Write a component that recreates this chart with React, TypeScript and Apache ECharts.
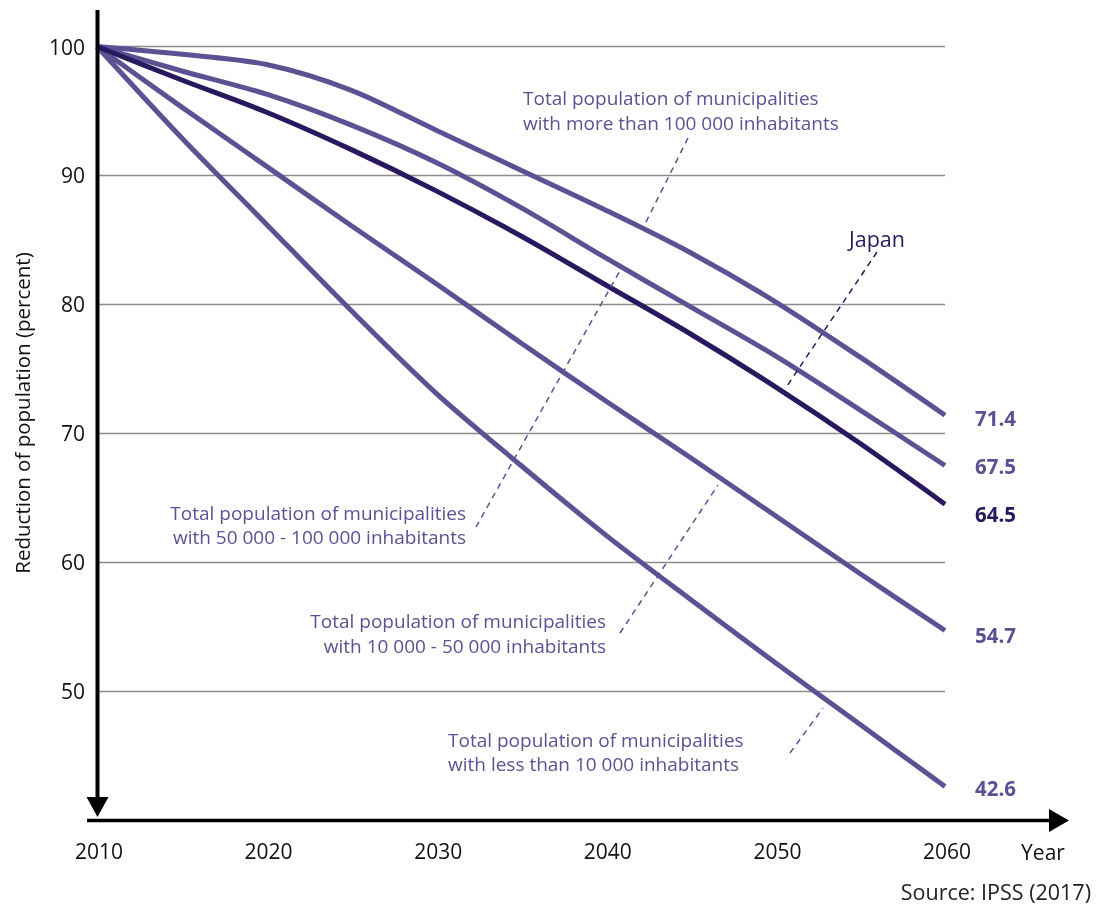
import React, { useEffect, useRef } from "react";
import * as echarts from "echarts";

const years = [2010, 2015, 2020, 2025, 2030, 2035, 2040, 2045, 2050, 2055, 2060];
const over100k = [100, 99.4, 98.6, 96.6, 93.5, 90.4, 87.3, 84.0, 80.2, 75.9, 71.4];
const from50kTo100k = [100, 98.1, 96.3, 93.9, 91.0, 87.5, 83.6, 79.8, 76.0, 71.8, 67.5];
const japan = [100, 97.4, 94.9, 92.0, 88.8, 85.3, 81.5, 77.7, 73.6, 69.2, 64.5];
const from10kTo50k = [100, 95.3, 90.7, 86.1, 81.6, 77.0, 72.5, 68.1, 63.6, 59.1, 54.7];
const under10k = [100, 92.9, 86.2, 79.5, 73.1, 67.5, 62.1, 57.1, 52.2, 47.4, 42.6];

const xTicks = [2010, 2020, 2030, 2040, 2050, 2060];
const yTicks = [50, 60, 70, 80, 90, 100];

const PURPLE = "#5b5293";
const DARK = "#28195f";
const FONT = "'Open Sans', Lato, sans-serif";

function mkSeries(name: string, data: number[], color: string, z: number, dy: number) {
  return {
    type: "line",
    name,
    data: years.map((y, i) => [y, data[i]]),
    smooth: 0.3,
    symbol: "none",
    z,
    lineStyle: { color, width: 5 },
    endLabel: {
      show: true,
      formatter: () => data[data.length - 1].toFixed(1),
      color,
      fontFamily: FONT,
      fontWeight: "bold",
      fontSize: 20.5,
      offset: [22, dy],
    },
  };
}

export default function App() {
  const ref = useRef<HTMLDivElement>(null);
  useEffect(() => {
    if (!ref.current) return;
    const chart = echarts.init(ref.current, null, { renderer: "svg" });
    const txt = (text: string, x: number, y: number, align: string, color: string, size = 19, rotation = 0) => ({
      type: "text",
      x,
      y,
      z: 100,
      rotation,
      style: {
        text,
        fill: color,
        font: `${size}px ${FONT}`,
        fontSize: size,
        fontFamily: FONT,
        align,
        textAlign: align,
        verticalAlign: "middle",
        textVerticalAlign: "middle",
      },
    });
    const two = (l1: string, l2: string, x: number, yc: number, align: string, color: string) => [
      txt(l1, x, yc - 12.25, align, color),
      txt(l2, x, yc + 12.25, align, color),
    ];
    const dash = (x1: number, y1: number, x2: number, y2: number, color: string) => ({
      type: "line",
      z: 100,
      shape: { x1, y1, x2, y2 },
      style: { stroke: color, lineWidth: 1.5, lineDash: [6, 5] },
    });
    chart.setOption({
      animation: false,
      grid: { left: 97, right: 160, top: 46.5, bottom: 86, containLabel: false },
      xAxis: {
        type: "value",
        min: 2010,
        max: 2060,
        interval: 10,
        axisLine: { show: false },
        axisTick: { show: false },
        splitLine: { show: false },
        axisLabel: {
          color: "#111",
          fontSize: 21,
          fontFamily: FONT,
          margin: 20,
          padding: [0, 0, 0, 4],
          formatter: (v: number) => (xTicks.includes(v) ? String(v) : ""),
        },
      },
      yAxis: {
        type: "value",
        min: 40,
        max: 100,
        interval: 10,
        axisLine: { show: false },
        axisTick: { show: false },
        splitLine: { show: true, lineStyle: { color: "#8c8c8c", width: 1.3 } },
        axisLabel: {
          color: "#111",
          fontSize: 21,
          fontFamily: FONT,
          margin: 12,
          showMinLabel: false,
          formatter: (v: number) => (yTicks.includes(v) ? String(v) : ""),
        },
      },
      series: [
        mkSeries(">100k", over100k, PURPLE, 2, 3),
        mkSeries("50k-100k", from50kTo100k, PURPLE, 2, 1),
        mkSeries("10k-50k", from10kTo50k, PURPLE, 2, 5),
        mkSeries("<10k", under10k, PURPLE, 2, 2),
        mkSeries("Japan", japan, DARK, 3, 9.5),
      ],
      graphic: [
        { type: "line", z: 100, shape: { x1: 97.5, y1: 10, x2: 97.5, y2: 800 }, style: { stroke: "#000", lineWidth: 4 } },
        { type: "polygon", z: 100, shape: { points: [[86.5, 797], [108.5, 797], [97.5, 817]] }, style: { fill: "#000" } },
        { type: "line", z: 100, shape: { x1: 87, y1: 820.5, x2: 1052, y2: 820.5 }, style: { stroke: "#000", lineWidth: 3.5 } },
        { type: "polygon", z: 100, shape: { points: [[1049, 809], [1049, 832], [1069, 820.5]] }, style: { fill: "#000" } },
        txt("Reduction of population (percent)", 22, 413, "center", "#111", 20.5, Math.PI / 2),
        txt("Year", 1043, 852, "center", "#111", 21),
        txt("Source: IPSS (2017)", 1091, 891, "right", "#222", 21.5),
        ...two("Total population of municipalities", "with more than 100 000 inhabitants", 523, 110.5, "left", PURPLE),
        dash(688, 138, 643, 228, PURPLE),
        txt("Japan", 877, 238, "center", DARK, 21.5),
        dash(877, 252, 785, 389, DARK),
        ...two("Total population of municipalities", "with 50 000 - 100 000 inhabitants", 466, 525, "right", PURPLE),
        dash(476, 527, 622, 267, PURPLE),
        ...two("Total population of municipalities", "with 10 000 - 50 000 inhabitants", 606, 633.5, "right", PURPLE),
        dash(620, 633, 718, 485, PURPLE),
        ...two("Total population of municipalities", "with less than 10 000 inhabitants", 448, 752, "left", PURPLE),
        dash(790, 753, 823, 708, PURPLE),
      ],
    });
    return () => chart.dispose();
  }, []);
  return <div ref={ref} style={{ position: "fixed", left: 0, top: 0, width: 1105, height: 906 }} />;
}
